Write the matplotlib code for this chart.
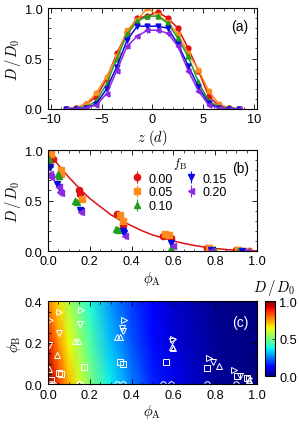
import numpy as np
import matplotlib
matplotlib.use('Agg')
import matplotlib.pyplot as plt
from matplotlib.ticker import MultipleLocator

plt.rcParams['font.family'] = ['Liberation Sans', 'DejaVu Sans']
plt.rcParams['mathtext.fontset'] = 'cm'
plt.rcParams['font.size'] = 9

fB_labels = ['0.00', '0.05', '0.10', '0.15', '0.20']
colors = ['#dd1111', '#ff8c1a', '#1f9e1f', '#0a0ae0', '#8a2be2']
markers_b = ['o', 's', '^', 'v', '<']
markers_c = ['o', 's', '^', 'v', '>']

# panel (a): profiles D/D0 vs z
z = [-8.5, -7.5, -6.5, -5.5, -4.5, -3.5, -2.5, -1.5, -0.5, 0.5, 1.5, 2.5, 3.5, 4.5, 5.5, 6.5, 7.5, 8.5]
prof = [
    [0.0, 0.01, 0.05, 0.12, 0.30, 0.55, 0.76, 0.90, 0.92, 0.96, 0.90, 0.80, 0.60, 0.38, 0.13, 0.03, 0.01, 0.0],
    [0.0, 0.01, 0.05, 0.16, 0.32, 0.52, 0.78, 0.88, 1.00, 0.93, 0.86, 0.74, 0.55, 0.39, 0.18, 0.05, 0.01, 0.0],
    [0.0, 0.01, 0.02, 0.08, 0.25, 0.50, 0.74, 0.87, 0.92, 0.92, 0.85, 0.70, 0.52, 0.27, 0.08, 0.02, 0.01, 0.0],
    [0.0, 0.0, 0.01, 0.05, 0.20, 0.42, 0.68, 0.82, 0.82, 0.82, 0.80, 0.64, 0.43, 0.22, 0.06, 0.01, 0.0, 0.0],
    [0.0, 0.0, 0.01, 0.04, 0.15, 0.38, 0.62, 0.72, 0.78, 0.78, 0.75, 0.62, 0.38, 0.18, 0.04, 0.01, 0.0, 0.0],
]

# panel (b): D/D0 vs phi_A
phiA = [
    [0.008, 0.024, 0.149, 0.155, 0.33, 0.36, 0.55, 0.59, 0.76, 0.90, 0.96],
    [0.016, 0.06, 0.064, 0.165, 0.344, 0.36, 0.56, 0.58, 0.77, 0.91, 0.955],
    [0.005, 0.008, 0.048, 0.053, 0.128, 0.14, 0.325, 0.336, 0.59, 0.80, 0.91],
    [0.008, 0.043, 0.053, 0.152, 0.16, 0.357, 0.363, 0.59, 0.78, 0.93],
    [0.008, 0.016, 0.053, 0.056, 0.064, 0.16, 0.368, 0.60, 0.78, 0.95],
]
Dval = [
    [0.99, 0.91, 0.60, 0.56, 0.37, 0.26, 0.15, 0.13, 0.03, 0.01, 0.0],
    [0.96, 0.80, 0.76, 0.52, 0.36, 0.30, 0.17, 0.16, 0.03, 0.01, 0.0],
    [0.91, 0.86, 0.76, 0.74, 0.50, 0.49, 0.22, 0.21, 0.03, 0.0, 0.0],
    [0.83, 0.66, 0.63, 0.41, 0.40, 0.20, 0.18, 0.08, 0.01, 0.0],
    [0.76, 0.73, 0.63, 0.58, 0.57, 0.39, 0.15, 0.05, 0.0, 0.0],
]
fit_x = [0, 0.05, 0.1, 0.15, 0.2, 0.25, 0.3, 0.35, 0.4, 0.45, 0.5, 0.55, 0.6, 0.65, 0.7, 0.75, 0.8, 0.85, 0.9, 0.95, 1.0]
fit_y = [1.0, 0.85, 0.73, 0.62, 0.52, 0.44, 0.36, 0.30, 0.25, 0.20, 0.16, 0.13, 0.10, 0.075, 0.055, 0.038, 0.025, 0.015, 0.008, 0.003, 0.0]

# panel (c): state points (phi_A, phi_B)
phiB = [
    [0.0] * 11,
    [0.024, 0.056, 0.05, 0.084, 0.108, 0.10, 0.108, 0.079, 0.043, 0.03],
    [0.075, 0.14, 0.21, 0.21, 0.23, 0.23, 0.18, 0.175, 0.088, 0.02],
    [0.19, 0.25, 0.29, 0.27, 0.26, 0.21, 0.108, 0.043],
    [0.31, 0.35, 0.36, 0.31, 0.22, 0.13, 0.068, 0.03],
]
phiA_c = [
    phiA[0],
    [0.016, 0.053, 0.064, 0.173, 0.344, 0.36, 0.563, 0.763, 0.904, 0.952],
    [0.005, 0.043, 0.128, 0.144, 0.328, 0.344, 0.592, 0.60, 0.816, 0.96],
    [0.005, 0.053, 0.152, 0.352, 0.36, 0.592, 0.79, 0.92],
    [0.008, 0.053, 0.16, 0.363, 0.597, 0.768, 0.888, 0.96],
]
grid_A = [0, 0.05, 0.1, 0.15, 0.2, 0.3, 0.4, 0.5, 0.6, 0.8, 1.0]
grid_B = [0, 0.2, 0.4]
grid_D = [
    [1.0, 0.85, 0.72, 0.61, 0.51, 0.36, 0.25, 0.16, 0.10, 0.025, 0.0],
    [0.89, 0.76, 0.64, 0.54, 0.45, 0.31, 0.21, 0.135, 0.08, 0.02, 0.0],
    [0.78, 0.67, 0.56, 0.47, 0.39, 0.27, 0.18, 0.115, 0.07, 0.015, 0.0],
]

fig = plt.figure(figsize=(2.99, 4.27), dpi=100)
ax1 = fig.add_axes([0.1605, 0.7424, 0.699, 0.2365])
ax2 = fig.add_axes([0.1605, 0.4098, 0.699, 0.2365])
ax3 = fig.add_axes([0.1605, 0.0972, 0.699, 0.1944])
cax = fig.add_axes([0.886, 0.117, 0.0334, 0.1756])


def style(ax):
    ax.tick_params(which='both', direction='in', top=True, right=True, labelsize=9.2)
    ax.tick_params(axis='x', pad=3)
    ax.tick_params(axis='y', pad=4)
    ax.tick_params(which='major', length=3.5, width=0.6)
    ax.tick_params(which='minor', length=1.8, width=0.5)
    for s in ax.spines.values():
        s.set_linewidth(0.8)


# (a)
for i in range(5):
    ax1.errorbar(z, prof[i], yerr=0.025, color=colors[i], marker=markers_b[i], ms=3.5,
                 lw=1.1, elinewidth=0.8, capsize=0)
ax1.set_xlim(-10.25, 10.25)
ax1.set_ylim(0, 1.0)
ax1.xaxis.set_major_locator(MultipleLocator(5))
ax1.xaxis.set_minor_locator(MultipleLocator(1))
ax1.yaxis.set_major_locator(MultipleLocator(0.5))
ax1.yaxis.set_minor_locator(MultipleLocator(0.1))
ax1.set_xlabel(r'$z\ (d)$', fontsize=10.5, labelpad=1)
ax1.set_ylabel(r'$D\,/\,D_0$', fontsize=10.5, labelpad=1)
ax1.text(0.96, 0.78, '(a)', transform=ax1.transAxes, ha='right', fontsize=10)
style(ax1)

# (b)
ax2.plot(fit_x, fit_y, color='#dd1111', lw=1.1, zorder=1)
for i in range(5):
    ax2.errorbar(phiA[i], Dval[i], yerr=0.03, color=colors[i], marker=markers_b[i], ms=4.5,
                 ls='none', elinewidth=0.8, capsize=0, label=fB_labels[i])
ax2.set_xlim(0, 1)
ax2.set_ylim(0, 1.0)
ax2.xaxis.set_major_locator(MultipleLocator(0.2))
ax2.xaxis.set_minor_locator(MultipleLocator(0.05))
ax2.yaxis.set_major_locator(MultipleLocator(0.5))
ax2.yaxis.set_minor_locator(MultipleLocator(0.1))
ax2.set_xlabel(r'$\phi_{\rm A}$', fontsize=10.5, labelpad=1)
ax2.set_ylabel(r'$D\,/\,D_0$', fontsize=10.5, labelpad=1)
leg = ax2.legend(title=r'$f_{\rm B}$', ncol=2, frameon=False, fontsize=9, title_fontsize=9,
                 loc='upper left', bbox_to_anchor=(0.36, 1.04), handlelength=0.8,
                 handletextpad=0.5, columnspacing=1.1, labelspacing=0.15, borderpad=0.2)
leg._legend_box.align = 'center'
ax2.text(0.96, 0.78, '(b)', transform=ax2.transAxes, ha='right', fontsize=10)
style(ax2)

# (c)
mesh = ax3.pcolormesh(grid_A, grid_B, grid_D, cmap='jet', vmin=0, vmax=1, shading='gouraud')
for i in range(5):
    ax3.plot(phiA_c[i], phiB[i], ls='none', marker=markers_c[i], ms=4, mfc='none',
             mec='white', mew=0.7, clip_on=True)
ax3.set_xlim(0, 1)
ax3.set_ylim(0, 0.4)
ax3.xaxis.set_major_locator(MultipleLocator(0.2))
ax3.xaxis.set_minor_locator(MultipleLocator(0.05))
ax3.yaxis.set_major_locator(MultipleLocator(0.2))
ax3.yaxis.set_minor_locator(MultipleLocator(0.05))
ax3.set_xlabel(r'$\phi_{\rm A}$', fontsize=10.5, labelpad=1)
ax3.set_ylabel(r'$\phi_{\rm B}$', fontsize=10.5, labelpad=1)
ax3.text(0.96, 0.7, '(c)', transform=ax3.transAxes, ha='right', fontsize=10, color='white')
style(ax3)

cb = fig.colorbar(mesh, cax=cax)
cb.set_ticks([0.0, 0.5, 1.0])
cb.ax.tick_params(labelsize=9.2, direction='in', length=2, width=0.5, pad=3)
cb.outline.set_linewidth(0.8)
cb.ax.text(0.9, 1.06, r'$D\,/\,D_0$', transform=cb.ax.transAxes, ha='center', va='bottom',
           fontsize=10.5)

fig.savefig('out.png', dpi=100)
